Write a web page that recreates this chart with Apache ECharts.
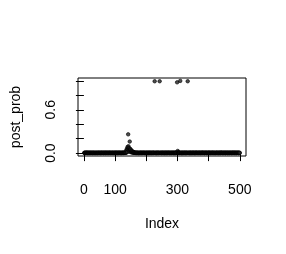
<!DOCTYPE html>
<html>
<head>
<meta charset="utf-8">
<script src="https://cdn.jsdelivr.net/npm/echarts@6/dist/echarts.min.js"></script>
<style>
html,body{margin:0;padding:0;background:#fff;}
#chart{width:286px;height:254px;}
</style>
</head>
<body>
<div id="chart"></div>
<script>
// Data (post_prob by Index 1..500)
const postProb = [
0.004,0.002,0.006,0.003,0.001,0.005,0.002,0.004,0.007,0.003,0.002,0.005,0.001,0.004,0.003,0.006,0.002,0.003,0.005,0.002,
0.003,0.005,0.002,0.004,0.006,0.001,0.003,0.002,0.005,0.004,0.002,0.003,0.006,0.002,0.004,0.001,0.003,0.005,0.002,0.004,
0.002,0.004,0.003,0.001,0.005,0.003,0.006,0.002,0.004,0.003,0.005,0.002,0.001,0.004,0.006,0.003,0.002,0.004,0.003,0.005,
0.005,0.001,0.004,0.002,0.003,0.006,0.002,0.005,0.003,0.001,0.004,0.006,0.003,0.002,0.005,0.004,0.001,0.003,0.006,0.002,
0.003,0.006,0.002,0.005,0.004,0.002,0.001,0.003,0.006,0.004,0.003,0.002,0.005,0.003,0.001,0.004,0.005,0.002,0.003,0.006,
0.002,0.003,0.005,0.004,0.002,0.006,0.003,0.001,0.004,0.005,0.002,0.003,0.004,0.006,0.002,0.005,0.003,0.004,0.001,0.003,
0.004,0.002,0.006,0.003,0.005,0.002,0.004,0.006,0.003,0.005,0.004,0.007,0.005,0.008,0.006,0.040,0.010,0.060,0.015,0.085,
0.050,0.260,0.095,0.070,0.040,0.020,0.160,0.060,0.030,0.050,0.012,0.020,0.035,0.010,0.025,0.008,0.012,0.018,0.006,0.010,
0.008,0.005,0.007,0.004,0.006,0.003,0.005,0.002,0.004,0.006,0.003,0.005,0.002,0.004,0.003,0.001,0.005,0.002,0.004,0.003,
0.005,0.002,0.004,0.006,0.003,0.001,0.004,0.005,0.002,0.003,0.006,0.004,0.002,0.005,0.003,0.001,0.004,0.002,0.006,0.003,
0.002,0.004,0.003,0.005,0.001,0.006,0.003,0.002,0.004,0.005,0.003,0.002,0.006,0.004,0.001,0.003,0.005,0.002,0.004,0.003,
0.004,0.003,0.005,0.002,0.006,0.004,0.995,0.003,0.002,0.005,0.004,0.001,0.003,0.006,0.002,0.004,0.005,0.003,0.002,0.004,
0.003,0.005,0.995,0.002,0.004,0.006,0.003,0.001,0.005,0.002,0.004,0.003,0.006,0.002,0.005,0.004,0.001,0.003,0.005,0.002,
0.006,0.002,0.004,0.003,0.005,0.001,0.004,0.006,0.002,0.003,0.005,0.004,0.002,0.006,0.003,0.001,0.004,0.005,0.002,0.003,
0.004,0.002,0.005,0.003,0.006,0.004,0.002,0.003,0.005,0.001,0.004,0.006,0.003,0.002,0.005,0.004,0.006,0.008,0.980,0.010,
0.030,0.008,0.004,0.003,0.005,0.002,0.006,0.004,1.000,0.003,0.005,0.002,0.004,0.001,0.006,0.003,0.002,0.005,0.004,0.003,
0.002,0.005,0.003,0.004,0.006,0.001,0.003,0.005,0.002,0.004,0.003,0.006,0.995,0.002,0.004,0.005,0.003,0.001,0.004,0.006,
0.003,0.002,0.005,0.004,0.001,0.006,0.003,0.002,0.004,0.005,0.003,0.006,0.002,0.004,0.001,0.005,0.003,0.002,0.006,0.004,
0.005,0.003,0.002,0.006,0.004,0.001,0.003,0.005,0.004,0.002,0.006,0.003,0.005,0.001,0.004,0.002,0.003,0.006,0.004,0.005,
0.002,0.004,0.006,0.003,0.005,0.002,0.001,0.004,0.003,0.006,0.005,0.002,0.004,0.003,0.001,0.005,0.006,0.002,0.003,0.004,
0.004,0.006,0.002,0.005,0.003,0.004,0.001,0.002,0.006,0.003,0.005,0.004,0.002,0.003,0.006,0.001,0.004,0.005,0.003,0.002,
0.003,0.001,0.005,0.004,0.002,0.006,0.003,0.005,0.002,0.004,0.001,0.003,0.006,0.005,0.002,0.004,0.003,0.001,0.005,0.006,
0.006,0.003,0.004,0.002,0.005,0.001,0.004,0.003,0.006,0.002,0.005,0.004,0.003,0.001,0.002,0.006,0.004,0.005,0.003,0.002,
0.002,0.005,0.003,0.006,0.001,0.004,0.002,0.005,0.003,0.004,0.006,0.002,0.001,0.005,0.003,0.004,0.002,0.006,0.005,0.003,
0.005,0.003,0.002,0.004,0.006,0.003,0.005,0.001,0.004,0.002,0.003,0.006,0.004,0.005,0.002,0.003,0.001,0.004,0.006,0.003
];
const xTicks = [0, 100, 200, 300, 400, 500];
const xLabels = [0, 100, 300, 500];
const yTicks = [0, 0.2, 0.4, 0.6, 0.8, 1.0];
const yLabels = [0, 0.6];

const points = postProb.map((v, i) => [i + 1, v]);
const n = postProb.length;
const xPad = 0.04 * (n - 1);

const FONT = 'Liberation Sans, Arial, Helvetica, sans-serif';
const chart = echarts.init(document.getElementById('chart'), null, {renderer: 'canvas'});
chart.setOption({
  animation: false,
  backgroundColor: '#fff',
  grid: {left: 78, top: 78, width: 168, height: 78, show: true, borderColor: '#000', borderWidth: 1, backgroundColor: 'transparent'},
  xAxis: {
    type: 'value', min: 1 - xPad, max: n + xPad,
    name: 'Index', nameLocation: 'middle', nameGap: 61,
    nameTextStyle: {color: '#000', fontSize: 14, fontFamily: FONT},
    axisLine: {show: false},
    splitLine: {show: false},
    axisTick: {show: true, inside: false, length: 8, customValues: xTicks, lineStyle: {color: '#000', width: 1}},
    axisLabel: {show: true, customValues: xLabels, margin: 27, color: '#000', fontSize: 14, fontFamily: FONT}
  },
  yAxis: {
    type: 'value', min: -0.04, max: 1.04,
    name: 'post_prob', nameLocation: 'middle', nameGap: 55, nameRotate: 90,
    nameTextStyle: {color: '#000', fontSize: 14, fontFamily: FONT},
    axisLine: {show: false},
    splitLine: {show: false},
    axisTick: {show: true, inside: false, length: 8, customValues: yTicks, lineStyle: {color: '#000', width: 1}},
    axisLabel: {show: true, customValues: yLabels, rotate: 90, margin: 20, color: '#000', fontSize: 14, fontFamily: FONT,
      formatter: v => Number(v).toFixed(1)}
  },
  series: [{
    type: 'scatter',
    data: points,
    symbol: 'circle',
    symbolSize: 3.5,
    itemStyle: {color: '#222', borderColor: '#000', borderWidth: 0.8},
    silent: true
  }]
});
</script>
</body>
</html>
